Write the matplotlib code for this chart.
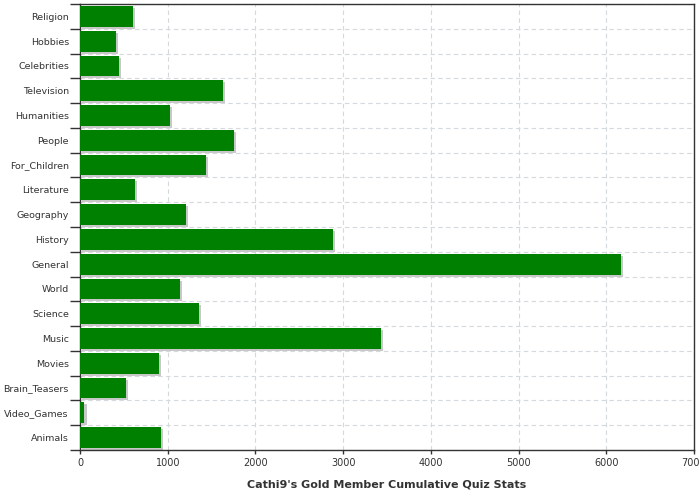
import numpy as np
import matplotlib
matplotlib.use("Agg")
import matplotlib.pyplot as plt

categories = ['Religion', 'Hobbies', 'Celebrities', 'Television', 'Humanities',
              'People', 'For_Children', 'Literature', 'Geography', 'History',
              'General', 'World', 'Science', 'Music', 'Movies', 'Brain_Teasers',
              'Video_Games', 'Animals']
values = [600, 405, 440, 1627, 1022, 1752, 1433, 622, 1204, 2880,
          6170, 1136, 1353, 3430, 900, 519, 51, 919]
x_ticks = [0, 1000, 2000, 3000, 4000, 5000, 6000, 7000]

txt = '#333333'
fig = plt.figure(figsize=(7, 5), dpi=100)
ax = fig.add_axes([80 / 700, 0.1, 614 / 700, 446 / 500])

y = np.arange(len(categories))
# shadow behind each bar
ax.barh(y + 0.08, values, left=25, height=0.84, color='#c8c8c8', zorder=2)
ax.barh(y, values, height=0.84, color='#008000', zorder=3)

ax.set_xlim(0, 7000)
ax.set_ylim(len(categories) - 0.5, -0.5)
ax.set_xticks(x_ticks)
ax.set_xticklabels([str(t) for t in x_ticks], fontsize=7, color=txt)
ax.set_yticks(y)
ax.set_yticklabels(categories, fontsize=6.8, color=txt)
ax.set_yticks(np.arange(len(categories) + 1) - 0.5, minor=True)
ax.tick_params(axis='y', which='major', length=0, pad=8)
ax.tick_params(axis='y', which='minor', length=7, width=1, color=txt)
ax.tick_params(axis='x', length=3, width=1, color=txt, pad=3)

ax.grid(True, axis='x', which='major', linestyle=(0, (4, 3)), color='#d3d9dd', linewidth=0.8, zorder=0)
ax.grid(True, axis='y', which='minor', linestyle=(0, (4, 3)), color='#d3d9dd', linewidth=0.8, zorder=0)
ax.set_axisbelow(True)

for s in ax.spines.values():
    s.set_color(txt)
    s.set_linewidth(1)

ax.set_xlabel("Cathi9's Gold Member Cumulative Quiz Stats", fontsize=8,
              fontweight='bold', color=txt, labelpad=8)

fig.savefig('out.png', dpi=100)
